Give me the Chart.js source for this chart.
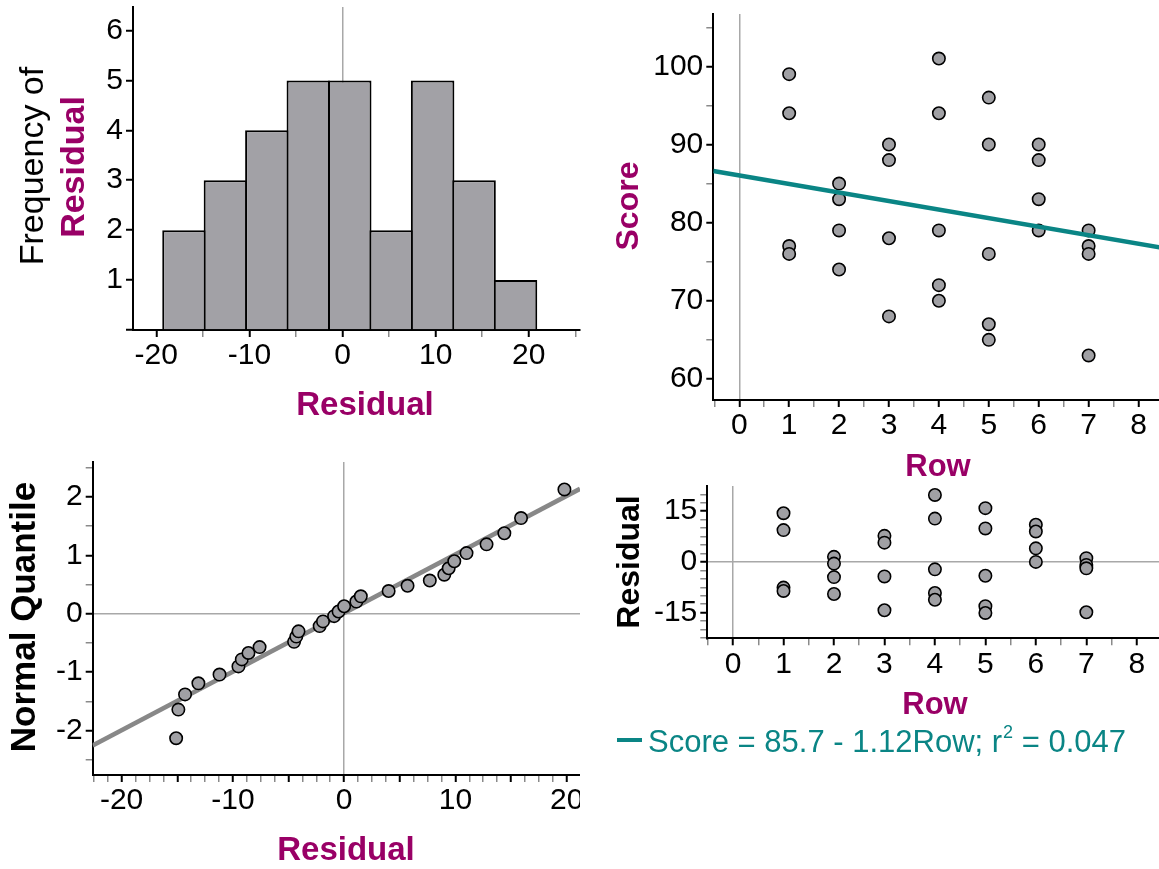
<!DOCTYPE html>
<html><head><meta charset="utf-8">
<script src="https://cdn.jsdelivr.net/npm/chart.js@4.4.0/dist/chart.umd.min.js"></script>
<style>
html,body{margin:0;padding:0;background:#fff;}
#wrap{position:relative;width:1159px;height:869px;overflow:hidden;background:#fff;}
canvas{position:absolute;}
.clip{position:absolute;overflow:hidden;}
</style></head><body>
<div id="wrap">
<canvas id="c1" width="590" height="440" style="left:0px;top:0px"></canvas>
<canvas id="c2" width="599" height="478" style="left:590px;top:0px"></canvas>
<div class="clip" style="left:0px;top:440px;width:580px;height:429px"><canvas id="c3" width="610" height="429" style="left:0px;top:0px"></canvas></div>
<canvas id="c4" width="599" height="391" style="left:590px;top:478px"></canvas>
</div>
<script>
// ---------- data ----------
const histBinEdges = [-19.25, -14.8, -10.35, -5.9, -1.45, 3.0, 7.45, 11.9, 16.35, 20.8];
const histCounts   = [2, 3, 4, 5, 5, 2, 5, 3, 1];
const histXLabels  = [-20, -10, 0, 10, 20];
const histYLabels  = [1, 2, 3, 4, 5, 6];

const rows   = [1,1,1,1, 2,2,2,2, 3,3,3,3, 4,4,4,4,4, 5,5,5,5,5, 6,6,6,6, 7,7,7,7];
const scores = [99,94,77,76, 85,83,79,74, 90,88,78,68, 101,94,79,72,70, 96,90,76,67,65, 90,88,83,79, 79,77,76,63];
const residuals = [14.4,9.4,-7.6,-8.6, 1.5,-0.5,-4.5,-9.5, 7.7,5.7,-4.3,-14.3, 19.8,12.8,-2.2,-9.2,-11.2, 15.9,9.9,-4.1,-13.1,-15.1, 11.0,9.0,4.0,0.0, 1.1,-0.9,-1.9,-14.9];
const rowLabels   = [0,1,2,3,4,5,6,7,8];
const scoreLabels = [60,70,80,90,100];
const residYLabels = [-15, 0, 15];

const fitRow   = [-0.52, 8.45];
const fitScore = [86.6, 76.8];
const fitText  = 'Score = 85.7 - 1.12Row; r';
const fitTextSup = '2';
const fitTextEnd = ' = 0.047';

const qqResidual = [-15.1,-14.9,-14.3,-13.1,-11.2,-9.5,-9.2,-8.6,-7.6,-4.5,-4.3,-4.1,-2.2,-1.9,-0.9,-0.5,0.0,1.1,1.5,4.0,5.7,7.7,9.0,9.4,9.9,11.0,12.8,14.4,15.9,19.8];
const qqQuantile = [-2.13,-1.64,-1.38,-1.19,-1.04,-0.90,-0.78,-0.67,-0.57,-0.48,-0.39,-0.30,-0.21,-0.13,-0.04,0.04,0.13,0.21,0.30,0.39,0.48,0.57,0.67,0.78,0.90,1.04,1.19,1.38,1.64,2.13];
const qqLineResidual = [-22.6, 21.2];
const qqLineQuantile = [-2.255, 2.14];
const qqXLabels = [-20, -10, 0, 10, 20];
const qqYLabels = [-2, -1, 0, 1, 2];

// ---------- style ----------
const FONT = "'Liberation Sans', Arial, Helvetica, sans-serif";
const PURPLE = '#990066', TEAL = '#0a8585', BAR = '#a2a1a6', PT = '#a0a0a4', ZERO = '#a8a8a8', MINOR = '#8a8a8a';
const TICK_SIZE = 30;

function textPlugin(items, ox, oy, extra) {
  return { id: 'txt', afterDraw(chart) {
    const ctx = chart.ctx;
    items.forEach(it => {
      ctx.save();
      ctx.font = it.font; ctx.fillStyle = it.color;
      ctx.textAlign = 'center'; ctx.textBaseline = 'middle';
      ctx.translate(it.x - ox, it.y - oy);
      if (it.rot) ctx.rotate(it.rot);
      ctx.fillText(it.text, 0, 0);
      ctx.restore();
    });
    if (extra) extra(ctx, ox, oy);
  }};
}

function linAxis(o) {
  return {
    type: 'linear', min: o.min, max: o.max, offset: false, position: o.position,
    border: { color: '#000', width: 2 },
    grid: {
      offset: false, drawOnChartArea: true, drawTicks: true, tickLength: 7,
      color: c => (o.zero && c.tick && c.tick.value === 0) ? ZERO : 'rgba(0,0,0,0)',
      lineWidth: 1.5,
      tickColor: c => (c.tick && o.major(c.tick.value)) ? '#000' : MINOR,
      tickWidth: c => (c.tick && o.major(c.tick.value)) ? 2 : 1.5
    },
    ticks: {
      stepSize: o.step, autoSkip: false, includeBounds: false, maxRotation: 0, minRotation: 0,
      padding: o.position === 'left' ? 3 : 1, color: '#000', font: { family: FONT, size: TICK_SIZE },
      callback: v => o.labels.includes(v) ? String(v) : ''
    },
    afterFit: s => {
      if (o.position === 'left') s.width = o.size; else s.height = o.size;
      s.paddingLeft = 0; s.paddingRight = 0; s.paddingTop = 0; s.paddingBottom = 0;
    }
  };
}

const base = { responsive: false, animation: false, events: [],
  plugins: { legend: { display: false }, tooltip: { enabled: false } } };
const rot = -Math.PI / 2;
const PR = 6.2, PBW = 1.6;

// ---------- histogram ----------
new Chart(document.getElementById('c1'), {
  type: 'bar',
  data: { datasets: [{
    data: histCounts.map((n, i) => ({ x: (histBinEdges[i] + histBinEdges[i + 1]) / 2, y: n })),
    backgroundColor: BAR, borderColor: '#000', borderWidth: 2,
    barPercentage: 1, categoryPercentage: 1.05, grouped: false
  }]},
  options: Object.assign({}, base, {
    layout: { padding: { top: 7, right: 10, left: 0, bottom: 0 } },
    scales: {
      x: linAxis({ position: 'bottom', min: -22.5, max: 25.5, step: 5, labels: histXLabels, zero: true, size: 110, major: v => v % 10 === 0 }),
      y: linAxis({ position: 'left', min: 0, max: 6.47, step: 1, labels: histYLabels, zero: false, size: 133, major: v => true })
    }
  }),
  plugins: [textPlugin([
    { text: 'Frequency of', x: 34, y: 166, rot, font: `34px ${FONT}`, color: '#000' },
    { text: 'Residual', x: 75, y: 167, rot, font: `bold 34px ${FONT}`, color: PURPLE },
    { text: 'Residual', x: 365, y: 406, font: `bold 33px ${FONT}`, color: PURPLE }
  ], 0, 0)]
});

// ---------- score vs row ----------
new Chart(document.getElementById('c2'), {
  type: 'scatter',
  data: { datasets: [
    { type: 'line', data: fitRow.map((x, i) => ({ x, y: fitScore[i] })), borderColor: TEAL, borderWidth: 4.5, pointRadius: 0, fill: false },
    { type: 'scatter', data: rows.map((x, i) => ({ x, y: scores[i] })), pointRadius: PR, pointBackgroundColor: PT, pointBorderColor: '#000', pointBorderWidth: PBW }
  ]},
  options: Object.assign({}, base, {
    layout: { padding: { top: 14, right: 30, left: 0, bottom: 0 } },
    scales: {
      x: linAxis({ position: 'bottom', min: -0.52, max: 8.41, step: 0.5, labels: rowLabels, zero: true, size: 78, major: v => Number.isInteger(v) }),
      y: linAxis({ position: 'left', min: 57.3, max: 106.7, step: 5, labels: scoreLabels, zero: false, size: 123.3, major: v => v % 10 === 0 })
    }
  }),
  plugins: [textPlugin([
    { text: 'Score', x: 629, y: 206, rot, font: `bold 32px ${FONT}`, color: PURPLE },
    { text: 'Row', x: 938, y: 467, font: `bold 31px ${FONT}`, color: PURPLE }
  ], 590, 0)]
});

// ---------- normal quantile ----------
new Chart(document.getElementById('c3'), {
  type: 'scatter',
  data: { datasets: [
    { type: 'scatter', data: qqResidual.map((x, i) => ({ x, y: qqQuantile[i] })), pointRadius: PR, pointBackgroundColor: PT, pointBorderColor: '#000', pointBorderWidth: PBW },
    { type: 'line', data: qqLineResidual.map((x, i) => ({ x, y: qqLineQuantile[i] })), borderColor: '#888888', borderWidth: 4.5, pointRadius: 0, fill: false }
  ]},
  options: Object.assign({}, base, {
    layout: { padding: { top: 22, right: 30, left: 0, bottom: 0 } },
    scales: {
      x: linAxis({ position: 'bottom', min: -22.6, max: 21.2, step: 1.25, labels: qqXLabels, zero: true, size: 94, major: v => v % 5 === 0 }),
      y: linAxis({ position: 'left', min: -2.76, max: 2.6, step: 0.5, labels: qqYLabels, zero: true, size: 92.7, major: v => Number.isInteger(v) })
    }
  }),
  plugins: [textPlugin([
    { text: 'Normal Quantile', x: 25, y: 617, rot, font: `bold 35px ${FONT}`, color: '#000' },
    { text: 'Residual', x: 346, y: 851, font: `bold 33px ${FONT}`, color: PURPLE }
  ], 0, 440)]
});

// ---------- residual vs row ----------
function drawLegend(ctx, ox, oy) {
  ctx.save();
  ctx.strokeStyle = TEAL; ctx.lineWidth = 4;
  ctx.beginPath(); ctx.moveTo(617 - ox, 740 - oy); ctx.lineTo(642 - ox, 740 - oy); ctx.stroke();
  ctx.fillStyle = TEAL; ctx.textAlign = 'left'; ctx.textBaseline = 'alphabetic';
  let x = 648 - ox; const b = 751.5 - oy;
  ctx.font = `31px ${FONT}`; ctx.fillText(fitText, x, b); x += ctx.measureText(fitText).width;
  ctx.font = `18px ${FONT}`; ctx.fillText(fitTextSup, x + 1, b - 14); x += ctx.measureText(fitTextSup).width + 1;
  ctx.font = `31px ${FONT}`; ctx.fillText(fitTextEnd, x, b);
  ctx.restore();
}
new Chart(document.getElementById('c4'), {
  type: 'scatter',
  data: { datasets: [
    { type: 'scatter', data: rows.map((x, i) => ({ x, y: residuals[i] })), pointRadius: PR, pointBackgroundColor: PT, pointBorderColor: '#000', pointBorderWidth: PBW }
  ]},
  options: Object.assign({}, base, {
    layout: { padding: { top: 8, right: 30, left: 0, bottom: 0 } },
    scales: {
      x: linAxis({ position: 'bottom', min: -0.51, max: 8.44, step: 0.5, labels: rowLabels, zero: true, size: 230.7, major: v => Number.isInteger(v) }),
      y: linAxis({ position: 'left', min: -22.6, max: 22.45, step: 2.5, labels: residYLabels, zero: true, size: 117.3, major: v => v % 15 === 0 })
    }
  }),
  plugins: [textPlugin([
    { text: 'Residual', x: 630, y: 562, rot, font: `bold 32px ${FONT}`, color: '#000' },
    { text: 'Row', x: 935, y: 705, font: `bold 31px ${FONT}`, color: PURPLE }
  ], 590, 478, drawLegend)]
});
</script>
</body></html>
